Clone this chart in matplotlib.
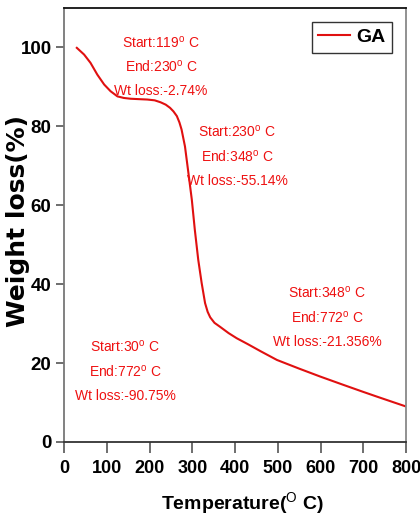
import matplotlib
matplotlib.use("Agg")
import matplotlib.pyplot as plt

# TGA curve of GA
temperature = [30, 47, 62, 78, 94, 109, 125, 140, 156, 175, 195, 212, 226, 238, 248, 256, 264,
               270, 275, 283, 291, 299, 306, 314, 322, 330, 336, 342, 352, 365, 385, 404, 430,
               460, 498, 550, 599, 653, 700, 732, 770, 800]
weight = [99.9, 98.2, 96.1, 93.1, 90.6, 88.9, 87.6, 87.2, 87.0, 86.9, 86.8, 86.6, 86.1, 85.5,
          84.7, 83.8, 82.6, 81.0, 79.2, 74.9, 68.2, 61.4, 53.8, 46.2, 40.3, 35.2, 33.0, 31.6,
          30.2, 29.2, 27.6, 26.3, 24.8, 23.0, 20.8, 18.6, 16.6, 14.5, 12.7, 11.5, 10.1, 9.0]

x_ticks = [0, 100, 200, 300, 400, 500, 600, 700, 800]
y_ticks = [0, 20, 40, 60, 80, 100]

# annotation blocks: (x centre, y of first line, lines)
annotations = [
    (227, 101.3, ["Start:119", "End:230", "Wt loss:-2.74%"]),
    (405, 78.6, ["Start:230", "End:348", "Wt loss:-55.14%"]),
    (615, 37.8, ["Start:348", "End:772", "Wt loss:-21.356%"]),
    (143, 24.1, ["Start:30", "End:772", "Wt loss:-90.75%"]),
]

sans = "Liberation Sans"
plt.rcParams["mathtext.fontset"] = "custom"
plt.rcParams["mathtext.rm"] = sans
plt.rcParams["mathtext.it"] = sans
plt.rcParams["mathtext.bf"] = sans + ":bold"

W, H = 420, 524
fig = plt.figure(figsize=(W / 100, H / 100), dpi=100)
ax = fig.add_axes([64 / W, 1 - 442 / H, (406 - 64) / W, (442 - 8) / H])

line_red = "#e01010"
ax.plot(temperature, weight, color=line_red, lw=1.5, label="GA")

ax.set_xlim(0, 800)
ax.set_ylim(0, 110)
ax.set_xticks(x_ticks)
ax.set_yticks(y_ticks)
ax.tick_params(axis="x", direction="out", length=8, width=1.2, color="#555555", pad=5)
ax.tick_params(axis="y", direction="out", length=6, width=1.2, color="#555555", pad=3)
for lab in ax.get_xticklabels():
    lab.set_fontfamily(sans)
    lab.set_fontweight("bold")
    lab.set_fontsize(13)
for lab in ax.get_yticklabels():
    lab.set_fontfamily(sans)
    lab.set_fontweight("bold")
    lab.set_fontsize(13.5)

ax.spines["top"].set_color("#111111")
ax.spines["bottom"].set_color("#333333")
ax.spines["left"].set_color("#777777")
ax.spines["right"].set_color("#888888")
for s in ax.spines.values():
    s.set_linewidth(1.3)

fig.text(242 / W, 1 - 503 / H, r"Temperature($^{\mathrm{O}}$ C)", fontfamily=sans,
         fontweight="bold", fontsize=14, ha="center", va="center")
fig.text(18 / W, 1 - 221 / H, "Weight loss(%)", fontfamily="DejaVu Sans", fontweight="bold",
         fontsize=18, rotation=90, ha="center", va="center")

text_red = "#ee1111"
for x, y, lines in annotations:
    for i, txt in enumerate(lines):
        if i < 2:
            txt = txt + r"$^{\mathrm{o}}$ C"
        ax.text(x, y - i * 6.2, txt, color=text_red, fontfamily=sans, fontsize=10,
                ha="center", va="center")

leg = ax.legend(loc="upper right", prop={"family": sans, "weight": "bold", "size": 14},
                frameon=True, fancybox=False, handlelength=1.6, borderpad=0.35,
                handletextpad=0.35, borderaxespad=0.7)
leg.get_frame().set_edgecolor("#333333")
leg.get_frame().set_linewidth(1.0)
leg.get_frame().set_alpha(1.0)

fig.savefig("out.png", dpi=100)
